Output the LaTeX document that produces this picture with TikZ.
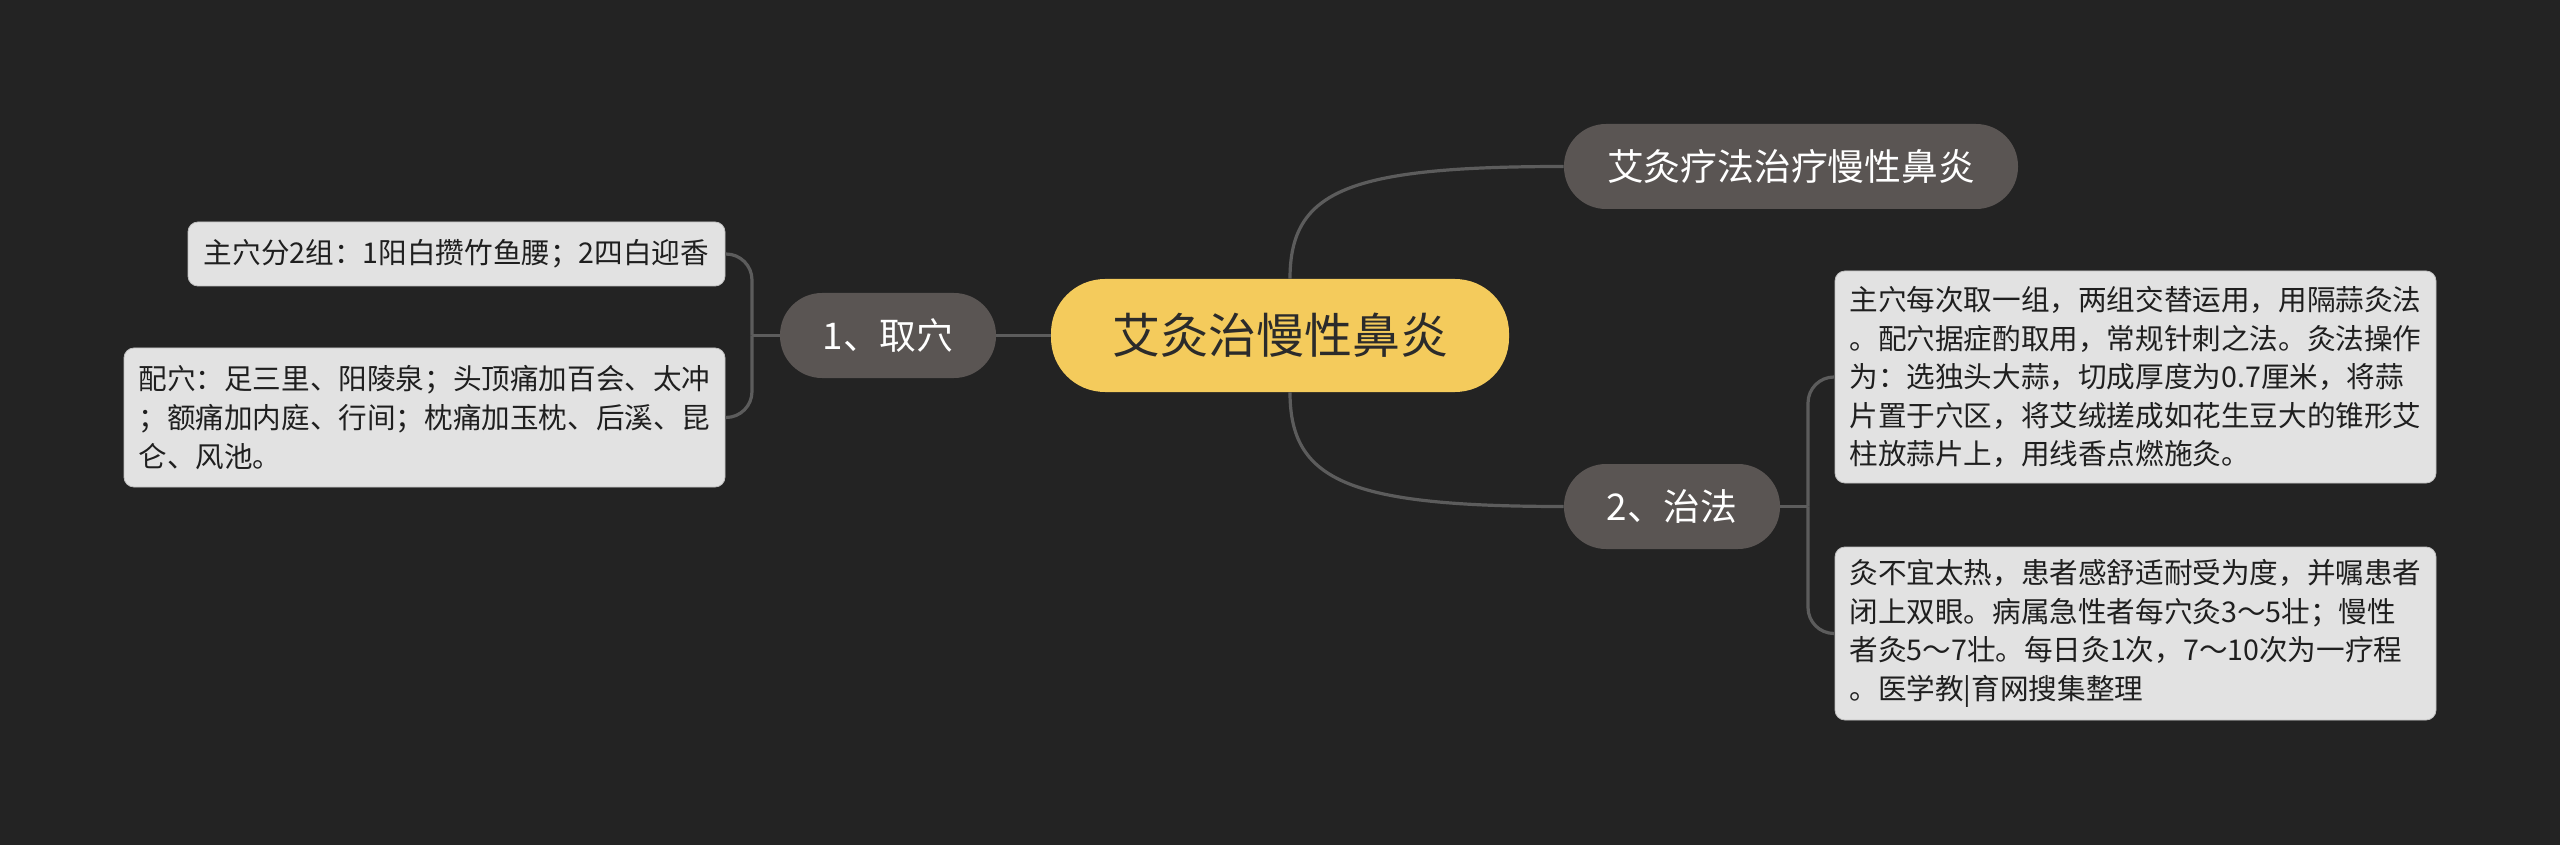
\documentclass[tikz,border=0pt]{standalone}
\usepackage{fontspec}
\newfontfamily\cjk{Noto Sans CJK SC}
\definecolor{bgc}{HTML}{232323}
\definecolor{yel}{HTML}{F4CB5C}
\definecolor{gnode}{HTML}{5A5553}
\definecolor{leafc}{HTML}{E2E2E2}
\definecolor{linec}{HTML}{5C5C5C}
\definecolor{darktxt}{HTML}{2B2B2B}
\tikzset{
  rootnode/.style={fill=yel, rounded corners=27pt, minimum width=229pt, minimum height=56.5pt,
    inner sep=0pt, text=darktxt, font=\cjk\fontsize{24}{28}\selectfont},
  subnode/.style={fill=gnode, rounded corners=21pt, minimum height=42.5pt,
    inner sep=0pt, text=white, font=\cjk\fontsize{18.4}{22}\selectfont},
  leafnode/.style={fill=leafc, draw=leafc!85!black, line width=0.4pt, rounded corners=5pt, inner xsep=7pt, inner ysep=0pt,
    align=left, text=black!88, font=\cjk\fontsize{14.3}{19.3}\selectfont},
  conn/.style={draw=linec, line width=1.6pt},
}
\begin{document}
\begin{tikzpicture}[x=0.5pt,y=-0.5pt]
\fill[bgc] (0,0) rectangle (2560,845);
\useasboundingbox (0,0) rectangle (2560,845);
\node[rootnode] (root) at (1280,335.5) {艾灸治慢性鼻炎};
\node[subnode, minimum width=227pt] (top) at (1791,166.5) {艾灸疗法治疗慢性鼻炎};
\node[subnode, minimum width=108pt] (qx) at (888,335.5) {1、取穴};
\node[subnode, minimum width=108pt] (zf) at (1672,506.5) {2、治法};
\node[leafnode, minimum width=268.5pt, minimum height=32pt] (l1) at (456.5,254) {主穴分2组：1阳白攒竹鱼腰；2四白迎香};
\node[leafnode, minimum width=300.5pt, minimum height=69.5pt] (l2) at (424.5,417.5) {配穴：足三里、阳陵泉；头顶痛加百会、太冲\\；额痛加内庭、行间；枕痛加玉枕、后溪、昆\\仑、风池。};
\node[leafnode, minimum width=300.5pt, minimum height=106pt] (r1) at (2135.5,377) {主穴每次取一组，两组交替运用，用隔蒜灸法\\。配穴据症酌取用，常规针刺之法。灸法操作\\为：选独头大蒜，切成厚度为0.7厘米，将蒜\\片置于穴区，将艾绒搓成如花生豆大的锥形艾\\柱放蒜片上，用线香点燃施灸。};
\node[leafnode, minimum width=300.5pt, minimum height=86.5pt] (r2) at (2135.5,633.5) {灸不宜太热，患者感舒适耐受为度，并嘱患者\\闭上双眼。病属急性者每穴灸3～5壮；慢性\\者灸5～7壮。每日灸1次，7～10次为一疗程\\。医学教|育网搜集整理};
\coordinate (lj) at (752,335.5);
\coordinate (rj) at (1808,506.5);
\draw[conn] ([xshift=5pt]root.north) .. controls +(0,-89) and +(-214,0) .. (top.west);
\draw[conn] ([xshift=5pt]root.south) .. controls +(0,89) and +(-214,0) .. (zf.west);
\draw[conn] (root.west) -- (qx.east);
\draw[conn] (qx.west) -- (lj);
\draw[conn, rounded corners=13pt] (lj) |- (l1.east);
\draw[conn, rounded corners=13pt] (lj) |- (l2.east);
\draw[conn] (zf.east) -- (rj);
\draw[conn, rounded corners=13pt] (rj) |- (r1.west);
\draw[conn, rounded corners=13pt] (rj) |- (r2.west);
\end{tikzpicture}
\end{document}
